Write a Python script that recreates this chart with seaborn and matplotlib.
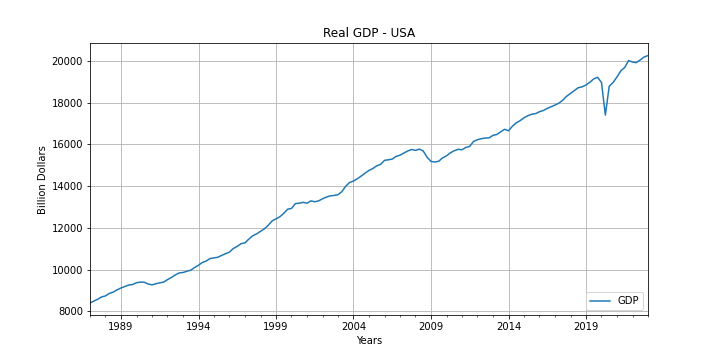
import numpy as np
import pandas as pd
import matplotlib
matplotlib.use("Agg")
import matplotlib.pyplot as plt
import matplotlib.dates as mdates
import seaborn as sns

# quarterly real GDP, billions, 1987Q1 .. 2023Q1
start = "1987-01-01"
gdp = [
    8400, 8490, 8580, 8690,        # 1987
    8740, 8860, 8920, 9030,        # 1988
    9120, 9190, 9260, 9285,        # 1989
    9370, 9400, 9395, 9310,        # 1990
    9270, 9320, 9365, 9400,        # 1991
    9520, 9620, 9740, 9840,        # 1992
    9860, 9920, 9970, 10100,       # 1993
    10210, 10340, 10410, 10530,    # 1994
    10560, 10590, 10680, 10760,    # 1995
    10840, 11010, 11110, 11240,    # 1996
    11280, 11460, 11620, 11710,    # 1997
    11830, 11950, 12120, 12330,    # 1998
    12430, 12530, 12690, 12890,    # 1999
    12930, 13160, 13180, 13220,    # 2000
    13180, 13290, 13250, 13290,    # 2001
    13390, 13470, 13530, 13550,    # 2002
    13590, 13730, 13990, 14170,    # 2003
    14240, 14350, 14480, 14620,    # 2004
    14750, 14840, 14970, 15040,    # 2005
    15230, 15260, 15290, 15420,    # 2006
    15480, 15580, 15680, 15750,    # 2007
    15710, 15770, 15680, 15380,    # 2008
    15180, 15150, 15190, 15350,    # 2009
    15450, 15590, 15690, 15760,    # 2010
    15740, 15850, 15900, 16140,    # 2011
    16220, 16270, 16300, 16310,    # 2012
    16430, 16470, 16600, 16720,    # 2013
    16650, 16860, 17030, 17130,    # 2014
    17270, 17370, 17440, 17470,    # 2015
    17560, 17620, 17720, 17800,    # 2016
    17880, 17970, 18110, 18300,    # 2017
    18440, 18580, 18710, 18750,    # 2018
    18840, 18970, 19130, 19210,    # 2019
    18960, 17400, 18780, 18960,    # 2020
    19230, 19520, 19680, 20010,    # 2021
    19940, 19910, 20040, 20180,    # 2022
    20250,                         # 2023
]
major_years = [1989, 1994, 1999, 2004, 2009, 2014, 2019]

df = pd.DataFrame({
    "date": pd.date_range(start, periods=len(gdp), freq="QS"),
    "gdp": gdp,
})

fig, ax = plt.subplots(figsize=(10, 5), dpi=72)
fig.subplots_adjust(left=0.125, right=0.9, bottom=0.124, top=0.88)

sns.lineplot(data=df, x="date", y="gdp", ax=ax, label="GDP", color="#1f77b4", linewidth=1.5)

ax.set_xlim(df["date"].iloc[0], df["date"].iloc[-1])
ax.set_xticks([pd.Timestamp(f"{y}-01-01") for y in major_years])
ax.xaxis.set_major_formatter(mdates.DateFormatter("%Y"))
ax.xaxis.set_minor_locator(mdates.YearLocator(1))
ax.grid(True)

ax.set_title("Real GDP - USA")
ax.set_xlabel("Years")
ax.set_ylabel("Billion Dollars")
ax.legend(loc="lower right")

plt.savefig("out.png", dpi=72)
